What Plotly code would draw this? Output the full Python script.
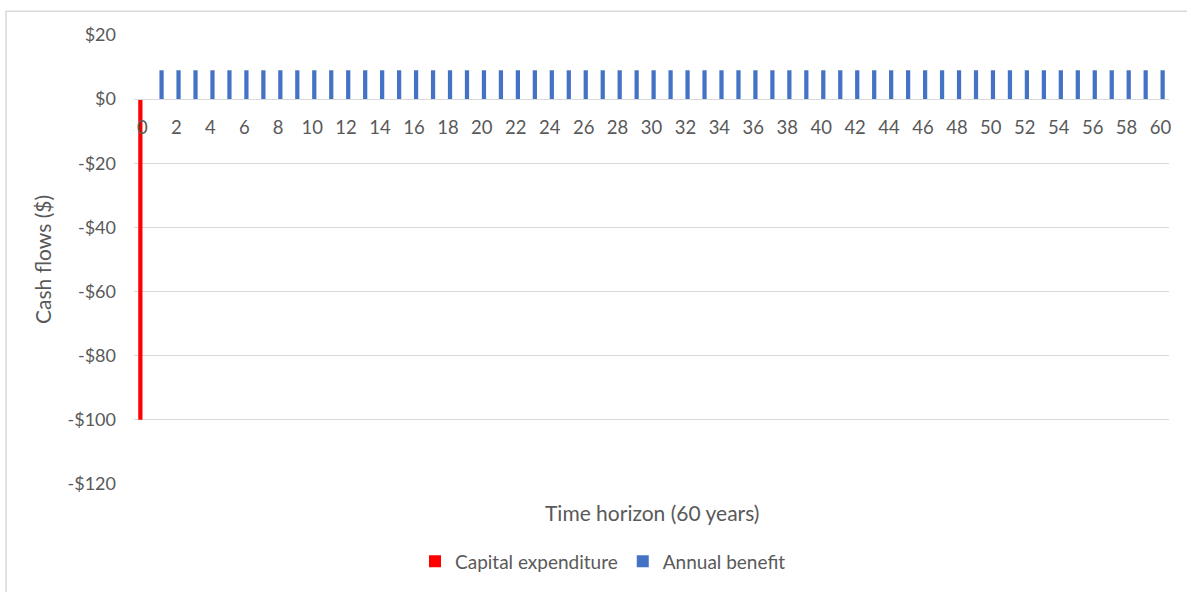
import plotly.graph_objects as go

years = list(range(0, 61))
capital_expenditure = [-100] + [0] * 60
annual_benefit = [0] + [9] * 60
y_ticks = [20, 0, -20, -40, -60, -80, -100, -120]
y_tick_labels = ["$20", "$0", "-$20", "-$40", "-$60", "-$80", "-$100", "-$120"]

FONT = "Lato"
GRAY = "#595959"
GRID = "#D9D9D9"

W, H = 1187, 592
L, R, T, B = 134, 18, 35, 104
PW, PH = W - L - R, H - T - B

fig = go.Figure()
fig.add_trace(go.Bar(x=years, y=capital_expenditure, name="Capital expenditure",
                     marker=dict(color="#FF0000", line=dict(width=0))))
fig.add_trace(go.Bar(x=years, y=annual_benefit, name="Annual benefit",
                     marker=dict(color="#4472C4", line=dict(width=0))))

fig.update_layout(
    width=W, height=H,
    margin=dict(l=L, r=R, t=T, b=B, pad=0),
    paper_bgcolor="white", plot_bgcolor="white",
    barmode="group", bargap=0.5, bargroupgap=0,
    font=dict(family=FONT, size=18, color=GRAY),
    showlegend=True,
    legend=dict(orientation="h", x=(603 - L) / PW, xanchor="center",
                y=(H - B - 566) / PH, yanchor="middle",
                font=dict(family=FONT, size=19, color=GRAY),
                itemwidth=30, bgcolor="rgba(0,0,0,0)"),
    xaxis=dict(range=[-0.5, 60.5], tick0=0, dtick=2, showgrid=False, zeroline=False,
               anchor="free", position=120 / 140, showline=True, linecolor=GRID, linewidth=1,
               ticks="", ticklabelstandoff=12,
               tickfont=dict(family=FONT, size=18.5, color=GRAY)),
    yaxis=dict(range=[-120, 20], tickvals=y_ticks, ticktext=y_tick_labels,
               showgrid=True, gridcolor=GRID, gridwidth=1, zeroline=False, showline=False,
               ticks="", ticklabelstandoff=17,
               tickfont=dict(family=FONT, size=18, color=GRAY),
               title=dict(text="Cash flows ($)", font=dict(family=FONT, size=21, color=GRAY),
                          standoff=10)),
)

fig.add_annotation(text="Time horizon (60 years)", xref="paper", yref="paper",
                   x=0.5, y=(H - B - 517) / PH, xanchor="center", yanchor="middle",
                   showarrow=False, font=dict(family=FONT, size=21, color=GRAY))

fig.add_shape(type="rect", xref="paper", yref="paper",
              x0=(6 - L) / PW, x1=(1195 - L) / PW,
              y0=(H - B - 600) / PH, y1=(H - B - 11) / PH,
              line=dict(color=GRID, width=1.5), fillcolor="rgba(0,0,0,0)", layer="below")

fig.write_html("out.html")
